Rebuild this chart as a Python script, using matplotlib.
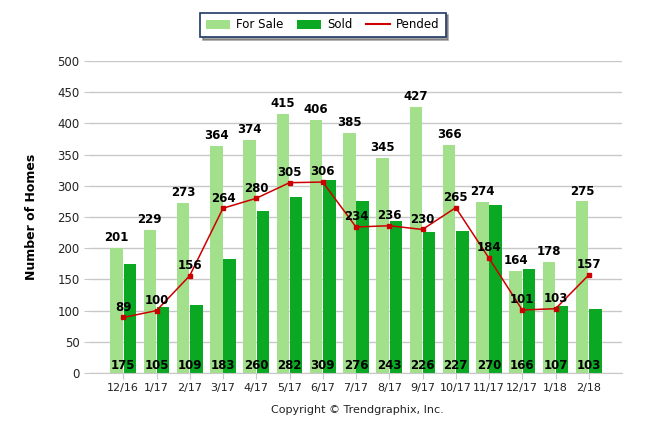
import numpy as np
import matplotlib
matplotlib.use("Agg")
import matplotlib.pyplot as plt
from matplotlib.lines import Line2D

# chart data
months = ["12/16", "1/17", "2/17", "3/17", "4/17", "5/17", "6/17", "7/17",
          "8/17", "9/17", "10/17", "11/17", "12/17", "1/18", "2/18"]
for_sale = [201, 229, 273, 364, 374, 415, 406, 385, 345, 427, 366, 274, 164, 178, 275]
sold = [175, 105, 109, 183, 260, 282, 309, 276, 243, 226, 227, 270, 166, 107, 103]
pended = [89, 100, 156, 264, 280, 305, 306, 234, 236, 230, 265, 184, 101, 103, 157]
y_ticks = [0, 50, 100, 150, 200, 250, 300, 350, 400, 450, 500]

light = "#a2e08b"
dark = "#0aa823"
red = "#cc0000"
grid_c = "#c8c8c8"

fig = plt.figure(figsize=(6.46, 4.34), dpi=100)
ax = fig.add_axes([90 / 646, 61 / 434, 532 / 646, 312 / 434])

x = np.arange(len(months))
w = 0.38
b1 = ax.bar(x - 0.2, for_sale, width=w, color=light, zorder=2)
b2 = ax.bar(x + 0.2, sold, width=w, color=dark, zorder=2)
ax.plot(x, pended, color=red, lw=1.1, marker="s", ms=2.2, zorder=3)

# value labels
for i in range(len(months)):
    ax.text(x[i] - 0.2, for_sale[i] + 6, str(for_sale[i]), ha="center", va="bottom",
            fontsize=8.5, fontweight="bold", zorder=4)
    ax.text(x[i], 2, str(sold[i]), ha="center", va="bottom",
            fontsize=8.5, fontweight="bold", zorder=4)
    ax.text(x[i], pended[i] + 6, str(pended[i]), ha="center", va="bottom",
            fontsize=8.5, fontweight="bold", zorder=4)

ax.set_xlim(-1, 15)
ax.set_ylim(0, 500)
ax.set_yticks(y_ticks)
ax.set_xticks(x)
ax.set_xticklabels(months)
ax.grid(axis="y", color=grid_c, lw=1, zorder=0)
ax.set_axisbelow(True)

for s in ["top", "right", "left"]:
    ax.spines[s].set_visible(False)
ax.spines["bottom"].set_color(grid_c)
ax.tick_params(axis="y", length=4, color=grid_c, labelsize=8.5, labelcolor="#222222")
ax.tick_params(axis="x", length=4, color=grid_c, labelsize=8, labelcolor="#222222")

ax.set_ylabel("Number of Homes", fontsize=9, fontweight="bold", labelpad=14)

line_handle = Line2D([0], [0], color=red, lw=1.5)
leg = fig.legend([b1, b2, line_handle], ["For Sale", "Sold", "Pended"],
                 loc="center", bbox_to_anchor=(323 / 646, 1 - 25 / 434),
                 ncol=3, fontsize=8.5, frameon=True, fancybox=False, shadow=True,
                 handlelength=2.0, handleheight=0.7, columnspacing=1.2,
                 handletextpad=0.5, borderpad=0.5)
leg.get_frame().set_edgecolor("#1f3864")
leg.get_frame().set_linewidth(1.2)

fig.text(357 / 646, 1 - 410 / 434, "Copyright \u00a9 Trendgraphix, Inc.",
         ha="center", va="center", fontsize=8, color="#222222")

fig.savefig("out.png", dpi=100)
